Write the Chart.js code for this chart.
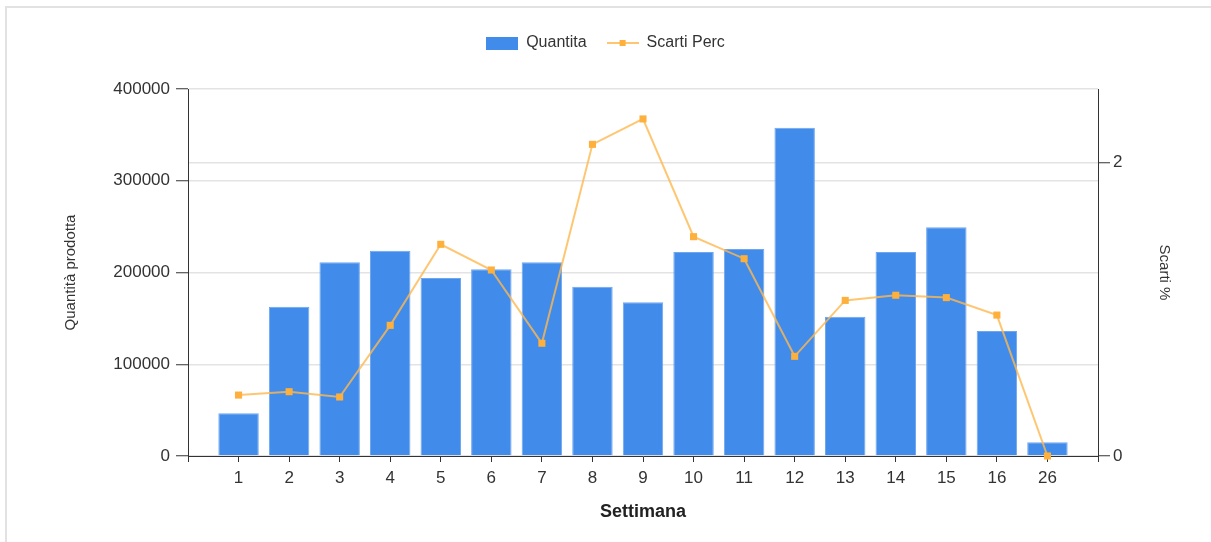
<!DOCTYPE html>
<html>
<head>
<meta charset="utf-8">
<script src="https://cdn.jsdelivr.net/npm/chart.js@4.4.1/dist/chart.umd.min.js"></script>
<style>
  html, body { margin: 0; padding: 0; background: #fff; }
  #wrap { position: relative; width: 1211px; height: 542px; overflow: hidden; }
  #frame { position: absolute; left: 5px; top: 6px; right: -10px; bottom: -10px;
           border-top: 2px solid #e2e2e2; border-left: 2px solid #e2e2e2; }
  canvas { position: absolute; left: 0; top: 0; }
</style>
</head>
<body>
<div id="wrap">
  <div id="frame"></div>
  <canvas id="c" width="1211" height="542"></canvas>
</div>
<script>
// Weekly production quantity and scrap percentage
const weeks = ['1', '2', '3', '4', '5', '6', '7', '8', '9', '10', '11', '12', '13', '14', '15', '16', '26'];
const quantita = [46500, 162700, 211100, 223800, 194000, 203500, 211100, 184500, 167500,
                  222300, 225600, 357800, 151800, 222300, 249200, 136200, 14900];
const scartiPerc = [0.415, 0.438, 0.402, 0.89, 1.442, 1.267, 0.768, 2.123, 2.296,
                    1.494, 1.344, 0.679, 1.06, 1.095, 1.079, 0.96, 0];
const qtyTicks = [0, 100000, 200000, 300000, 400000];
const scartiTicks = [0, 2];

// an empty slot on each side of the week categories
const xLabels = [''].concat(weeks, ['']);
const padSeries = arr => [null].concat(arr, [null]);

const BAR = '#418BEB';
const LINE = 'rgba(255, 184, 77, 0.8)';
const POINT = '#FDB03C';
const TXT = '#333';
const FONT = "'Liberation Sans', Arial, sans-serif";

function legendBarIcon() {
  const c = document.createElement('canvas');
  c.width = 32; c.height = 13;
  const g = c.getContext('2d');
  g.fillStyle = BAR;
  g.fillRect(0, 0, 32, 13);
  return c;
}
function legendLineIcon() {
  const c = document.createElement('canvas');
  c.width = 32; c.height = 10;
  const g = c.getContext('2d');
  g.strokeStyle = LINE;
  g.lineWidth = 2;
  g.beginPath(); g.moveTo(0, 5); g.lineTo(32, 5); g.stroke();
  g.fillStyle = POINT;
  g.fillRect(13, 2, 6, 6);
  return c;
}

// reserve room under the legend row
const legendSpace = {
  id: 'legendSpace',
  afterInit(chart) {
    const lg = chart.legend;
    const fit = lg.fit.bind(lg);
    lg.fit = function () { fit(); this.height = 74; };
  }
};

new Chart(document.getElementById('c'), {
  type: 'bar',
  data: {
    labels: xLabels,
    datasets: [
      {
        type: 'bar',
        label: 'Quantita',
        data: padSeries(quantita),
        yAxisID: 'y',
        backgroundColor: BAR,
        borderColor: '#6FA6EE',
        borderWidth: 1,
        categoryPercentage: 1,
        barPercentage: 0.8,
        order: 1
      },
      {
        type: 'line',
        label: 'Scarti Perc',
        data: padSeries(scartiPerc),
        yAxisID: 'y1',
        borderColor: LINE,
        borderWidth: 2,
        backgroundColor: POINT,
        pointStyle: 'rect',
        pointRadius: 5,
        pointBackgroundColor: POINT,
        pointBorderColor: POINT,
        pointBorderWidth: 0,
        tension: 0,
        clip: false,
        spanGaps: false,
        order: 0
      }
    ]
  },
  options: {
    responsive: false,
    animation: false,
    layout: { padding: { left: 34, right: 34, top: 15, bottom: 15 } },
    plugins: {
      tooltip: { enabled: false },
      legend: {
        position: 'top',
        labels: {
          font: { family: FONT, size: 16 },
          color: TXT,
          padding: 20,
          usePointStyle: true,
          pointStyleWidth: 32,
          boxHeight: 14,
          generateLabels: () => [
            { text: 'Quantita', pointStyle: legendBarIcon(), fillStyle: BAR, strokeStyle: 'transparent',
              lineWidth: 0, hidden: false, datasetIndex: 0, fontColor: TXT },
            { text: 'Scarti Perc', pointStyle: legendLineIcon(), fillStyle: POINT, strokeStyle: 'transparent',
              lineWidth: 0, hidden: false, datasetIndex: 1, fontColor: TXT }
          ]
        }
      }
    },
    scales: {
      x: {
        type: 'category',
        offset: false,
        afterFit(s) { s.height = 71; },
        grid: { display: true, offset: false, drawOnChartArea: false, tickLength: 6, tickColor: '#333', tickWidth: 1 },
        border: { color: '#333', width: 1 },
        ticks: {
          autoSkip: false, maxRotation: 0, padding: 6,
          color: TXT, font: { family: FONT, size: 17 },
          callback: (v, i) => xLabels[i]
        },
        title: {
          display: true, text: 'Settimana', color: '#222',
          font: { family: FONT, size: 18, weight: 'bold' },
          padding: { top: 0, bottom: 4 }
        }
      },
      y: {
        type: 'linear',
        position: 'left',
        min: 0, max: 400000,
        afterFit(s) { s.width = 154; },
        afterBuildTicks(s) { s.ticks = qtyTicks.map(v => ({ value: v })); },
        grid: { color: '#e3e3e3', lineWidth: 1.5, tickColor: '#333', tickLength: 12, tickWidth: 1 },
        border: { color: '#333', width: 1 },
        ticks: { color: TXT, font: { family: FONT, size: 17 }, padding: 6, callback: v => String(v) },
        title: {
          display: true, text: 'Quantità prodotta', color: TXT,
          font: { family: FONT, size: 15 },
          padding: { top: 28, bottom: 0 }
        }
      },
      y1: {
        type: 'linear',
        position: 'right',
        min: 0, max: 2.5,
        afterFit(s) { s.width = 79; },
        afterBuildTicks(s) { s.ticks = scartiTicks.map(v => ({ value: v })); },
        grid: { color: '#e3e3e3', lineWidth: 1.5, tickColor: '#333', tickLength: 12, tickWidth: 1 },
        border: { color: '#333', width: 1 },
        ticks: { color: TXT, font: { family: FONT, size: 17 }, padding: 3, callback: v => String(v) },
        title: {
          display: true, text: 'Scarti %', color: TXT,
          font: { family: FONT, size: 15 },
          padding: { top: 4, bottom: 0 }
        }
      }
    }
  },
  plugins: [legendSpace]
});
</script>
</body>
</html>
